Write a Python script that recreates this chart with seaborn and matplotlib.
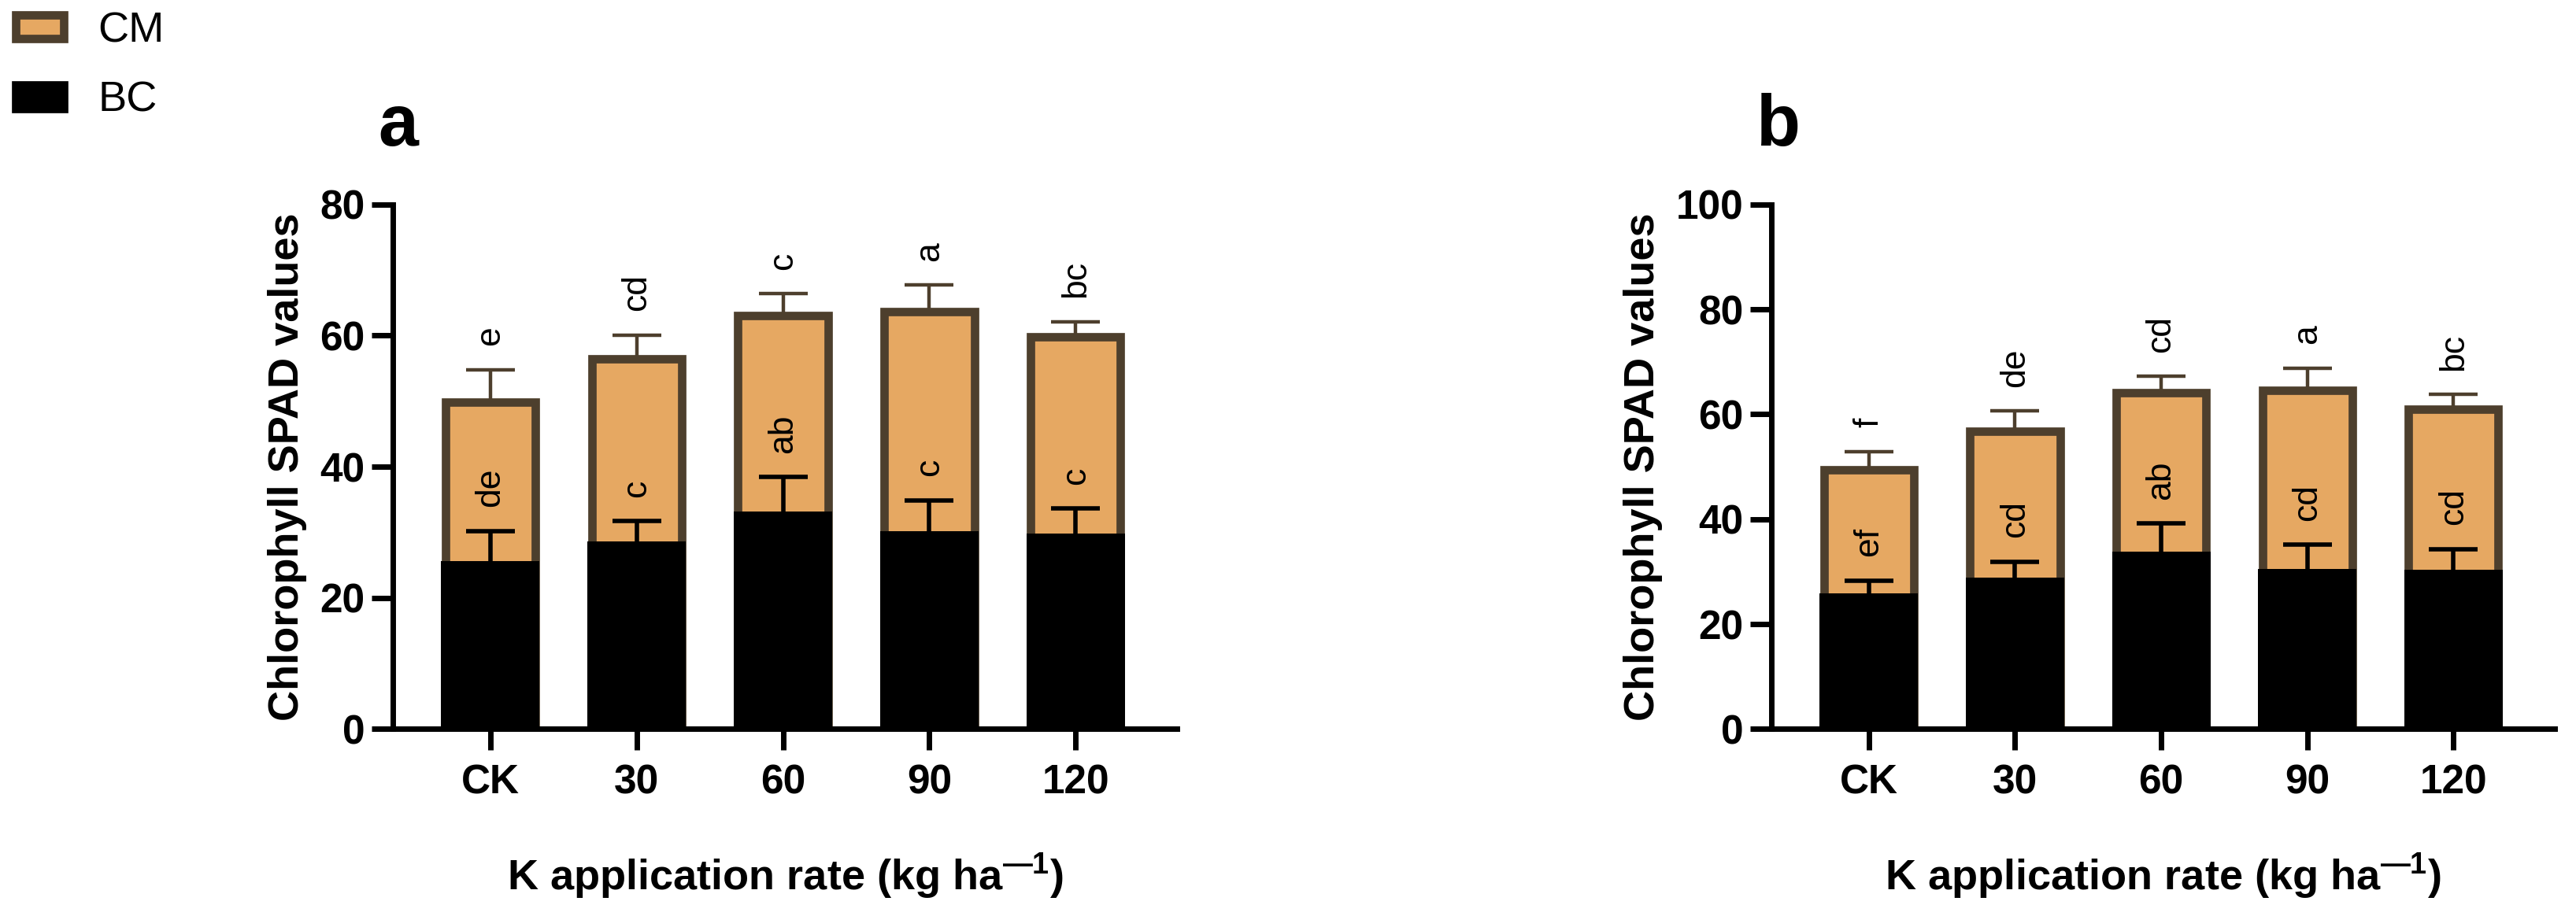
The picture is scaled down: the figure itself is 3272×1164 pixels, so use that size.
import numpy as np
import pandas as pd
import matplotlib
matplotlib.use("Agg")
import matplotlib.pyplot as plt
import seaborn as sns
from matplotlib.patches import Patch

## dados

rates = ['CK', '30', '60', '90', '120']

# painel a
cm_a = [49.9, 56.5, 63.0, 63.7, 59.8]
cm_a_err = [4.9, 3.6, 3.4, 4.0, 2.3]
bc_a = [25.6, 28.6, 33.2, 30.2, 29.8]
bc_a_err = [4.6, 3.1, 5.2, 4.7, 3.8]
cm_a_let = ['e', 'cd', 'c', 'a', 'bc']
bc_a_let = ['de', 'c', 'ab', 'c', 'c']

# painel b
cm_b = [49.4, 56.8, 64.1, 64.6, 60.9]
cm_b_err = [3.5, 3.8, 3.1, 4.2, 2.9]
bc_b = [25.8, 28.9, 33.8, 30.5, 30.3]
bc_b_err = [2.5, 3.0, 5.4, 4.6, 4.0]
cm_b_let = ['f', 'de', 'cd', 'a', 'bc']
bc_b_let = ['ef', 'cd', 'ab', 'cd', 'cd']

laranja = '#E6A862'
marrom = '#4D3F2D'

plt.rcParams['font.family'] = ['Liberation Sans', 'DejaVu Sans']
plt.rcParams['font.weight'] = 'bold'
plt.rcParams['axes.labelweight'] = 'bold'
plt.rcParams['mathtext.fontset'] = 'custom'
plt.rcParams['mathtext.rm'] = 'Liberation Sans:bold'
plt.rcParams['mathtext.bf'] = 'Liberation Sans:bold'
plt.rcParams['mathtext.default'] = 'bf'


def painel(ax, cm, cm_err, bc, bc_err, cm_let, bc_let, ymax):
    df = pd.DataFrame({'rate': rates, 'cm': cm, 'bc': bc})
    x = np.arange(len(rates))
    zeros = np.zeros(len(rates))

    # barra CM inteira (atrás) e BC preta por cima
    sns.barplot(data=df, x='rate', y='cm', order=rates, color=laranja,
                edgecolor=marrom, linewidth=7.7, width=0.615, saturation=1,
                errorbar=None, ax=ax, zorder=1)
    sns.barplot(data=df, x='rate', y='bc', order=rates, color='black',
                linewidth=0, width=0.673, saturation=1,
                errorbar=None, ax=ax, zorder=2)

    # barras de erro só para cima (esconde o cap de baixo)
    eb = ax.errorbar(x, cm, yerr=[zeros, cm_err], fmt='none', ecolor=marrom,
                     elinewidth=3.2, capsize=22.5, capthick=3.2, zorder=3)
    eb[1][0].set_visible(False)
    eb = ax.errorbar(x, bc, yerr=[zeros, bc_err], fmt='none', ecolor='black',
                     elinewidth=4, capsize=22.5, capthick=4, zorder=3)
    eb[1][0].set_visible(False)

    for i in range(len(rates)):
        ax.annotate(cm_let[i], (x[i], cm[i] + cm_err[i]), xytext=(0, 22),
                    textcoords='offset points', rotation=90, ha='center',
                    va='bottom', fontsize=32, fontweight='normal', zorder=4)
        ax.annotate(bc_let[i], (x[i], bc[i] + bc_err[i]), xytext=(0, 22),
                    textcoords='offset points', rotation=90, ha='center',
                    va='bottom', fontsize=32, fontweight='normal', zorder=4)

    ax.set_xlim(-0.667, 4.693)
    ax.set_ylim(0, ymax)
    ax.set_yticks(np.arange(0, ymax + 1, 20))
    ax.spines['top'].set_visible(False)
    ax.spines['right'].set_visible(False)
    ax.spines['left'].set_linewidth(5)
    ax.spines['bottom'].set_linewidth(5)
    ax.tick_params(axis='both', labelsize=37, width=5, length=19.5)
    ax.tick_params(axis='x', pad=12)
    ax.tick_params(axis='y', pad=6)

    ax.set_ylabel('Chlorophyll SPAD values', fontsize=39, fontweight='bold', labelpad=12)
    ax.set_xlabel(r'K application rate (kg ha$^{—1}$)', fontsize=39,
                  fontweight='bold', va='baseline')
    ax.xaxis.set_label_coords(0.5, -0.3067)


fig = plt.figure(figsize=(32.73, 11.64), dpi=100)
ax_a = fig.add_axes([0.15246, 0.20404, 0.30431, 0.5728])
ax_b = fig.add_axes([0.68744, 0.20404, 0.30400, 0.5728])

painel(ax_a, cm_a, cm_a_err, bc_a, bc_a_err, cm_a_let, bc_a_let, 80)
painel(ax_b, cm_b, cm_b_err, bc_b, bc_b_err, cm_b_let, bc_b_let, 100)

fig.text(480 / 3273, 1 - 185 / 1164, 'a', fontsize=66, fontweight='bold', va='baseline')
fig.text(2231 / 3273, 1 - 185 / 1164, 'b', fontsize=66, fontweight='bold', va='baseline')

handles = [Patch(facecolor=laranja, edgecolor=marrom, linewidth=7.7, label='CM'),
           Patch(facecolor='black', edgecolor='black', linewidth=7.7, label='BC')]
fig.legend(handles=handles, loc='upper left', bbox_to_anchor=(20 / 3273, 1 - 14 / 1164),
           frameon=False, borderpad=0, borderaxespad=0, handlelength=1.13,
           handleheight=0.48, handletextpad=0.8, labelspacing=0.72,
           prop={'size': 39, 'weight': 'normal'})

fig.savefig('out.png', dpi=100)
